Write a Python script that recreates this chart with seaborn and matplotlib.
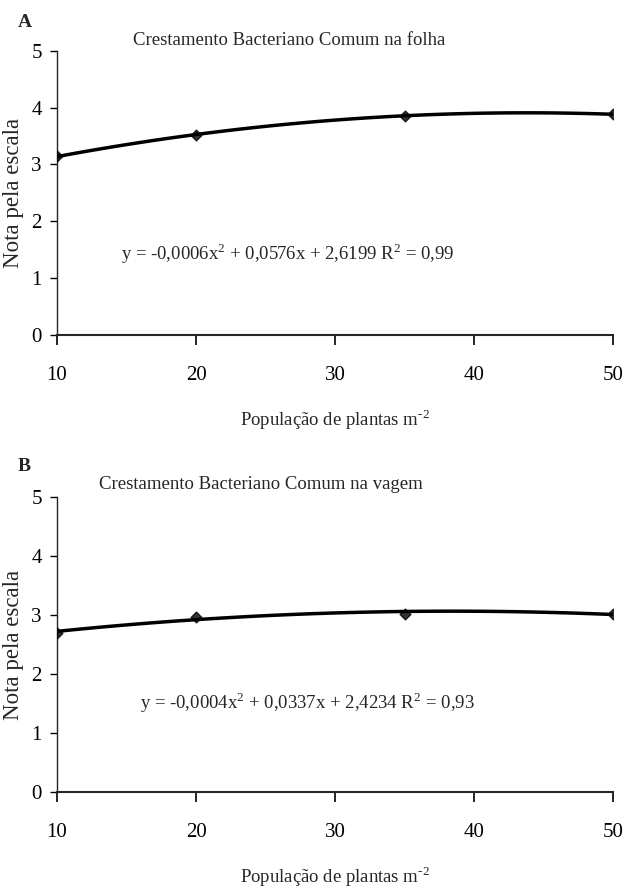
import matplotlib
matplotlib.use("Agg")
import matplotlib.pyplot as plt
import seaborn as sns
import pandas as pd

sns.set_style("ticks")
plt.rcParams['font.family'] = ['Liberation Serif', 'DejaVu Serif']
plt.rcParams['mathtext.fontset'] = 'custom'
plt.rcParams['mathtext.rm'] = 'Liberation Serif'

# populacao de plantas por m2
populacao = [10, 20, 35, 50]
nota_folha = [3.14, 3.52, 3.86, 3.88]
nota_vagem = [2.70, 2.97, 3.02, 3.02]

titulos = ["Crestamento Bacteriano Comum na folha",
           "Crestamento Bacteriano Comum na vagem"]
equacoes = ["y = -0,0006x$^2$ + 0,0576x + 2,6199 R$^2$ = 0,99",
            "y = -0,0004x$^2$ + 0,0337x + 2,4234 R$^2$ = 0,93"]
letras = ["A", "B"]
eq_pos = [(26.6, 1.44), (28.0, 1.51)]
titulo_x = [0.417, 0.367]
titulo_pad = [4, 6]

fig = plt.figure(figsize=(6.28, 8.94), dpi=100)
axA = fig.add_axes([0.0908, 0.6253, 0.8854, 0.318])
axB = fig.add_axes([0.0908, 0.1141, 0.8854, 0.330])

for i, (ax, notas) in enumerate(zip([axA, axB], [nota_folha, nota_vagem])):
    df = pd.DataFrame({"pop": populacao, "nota": notas})
    sns.regplot(data=df, x="pop", y="nota", order=2, ci=None, ax=ax,
                color="black", marker="D",
                scatter_kws={"s": 30, "zorder": 3},
                line_kws={"lw": 2.5})
    ax.set_xlim(10, 50)
    ax.set_ylim(0, 5)
    ax.set_xticks([10, 20, 30, 40, 50])
    ax.set_yticks([0, 1, 2, 3, 4, 5])
    sns.despine(ax=ax)
    ax.spines['left'].set_linewidth(1.0)
    ax.spines['bottom'].set_linewidth(1.5)
    ax.tick_params(axis='x', length=7, width=1.2, pad=15, labelsize=15, colors='black')
    ax.tick_params(axis='y', length=5, width=1.0, pad=6, labelsize=15, colors='black')
    ax.set_xlabel("População de plantas m$^{\\text{-2}}$", fontsize=13.5, labelpad=16)
    ax.set_ylabel("Nota pela escala", fontsize=16.5, labelpad=5)
    ax.text(eq_pos[i][0], eq_pos[i][1], equacoes[i], fontsize=13.5,
            ha="center", va="center")
    ax.set_title(titulos[i], fontsize=13.5, x=titulo_x[i], pad=titulo_pad[i])
    ax.set_facecolor("white")

fig.text(0.028, 0.975, letras[0], fontsize=14, fontweight="bold", ha="left", va="center")
fig.text(0.028, 0.478, letras[1], fontsize=14, fontweight="bold", ha="left", va="center")

fig.savefig("out.png", dpi=100, facecolor="white")
